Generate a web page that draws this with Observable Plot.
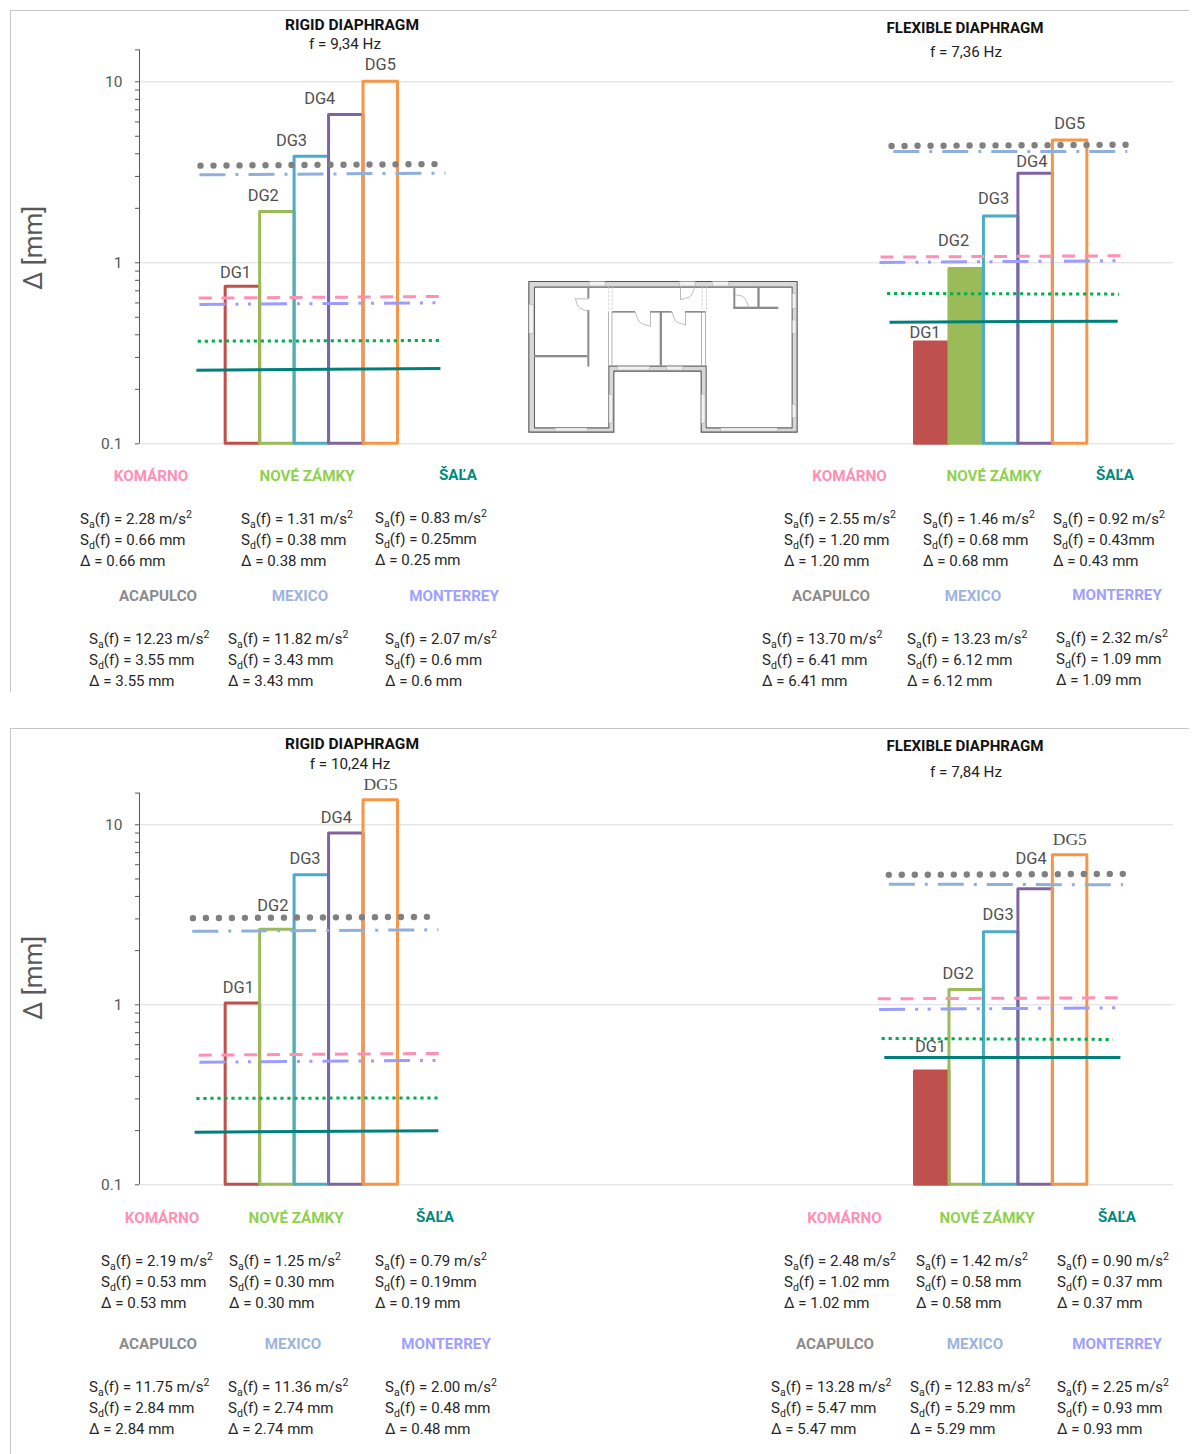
<!DOCTYPE html>
<html><head><meta charset="utf-8">
<script src="https://cdn.jsdelivr.net/npm/d3@7"></script>
<script src="https://cdn.jsdelivr.net/npm/@observablehq/plot@0.6"></script>
<style>
html,body{margin:0;background:#fff}
#page{position:relative;width:1196px;height:1454px;overflow:hidden;font-family:Roboto,sans-serif;color:#262626}
#page>svg,#page>figure{position:absolute;left:0;margin:0}
.frame{position:absolute;left:9.5px;width:1178px;border-top:1px solid #c6c6c6;border-left:1px solid #c6c6c6}
.t{position:absolute;white-space:nowrap;transform:translate(-50%,-50%)}
.head{font-weight:700;color:#111}
.freq{font-size:15.2px;color:#222}
.city{font-weight:700;font-size:15.2px}
.block{position:absolute;white-space:nowrap;font-size:15px;line-height:21.3px;color:#262626}
.block sub,.block sup{font-size:.7em;line-height:0}
</style></head><body><div id="page"></div>
<script>
// ---- bar series (Δ in mm) ----
const dgNames = ["DG1","DG2","DG3","DG4","DG5"];
const dgColors = ["#C0504D","#9BBB59","#4BACC6","#8064A2","#F79646"];
const rigidA = [0.737,1.905,3.85,6.55,10.0];
const flexA  = [0.363,0.923,1.80,3.10,4.74];
const rigidB = [1.017,2.61,5.25,8.95,13.7];
const flexB  = [0.426,1.21,2.53,4.38,6.78];
const filledFlexA = ["DG1","DG2"];
const filledFlexB = ["DG1"];
const yTicksMajor = [0.1,1,10];
const yTicksMinor = [0.2,0.3,0.4,0.5,0.6,0.7,0.8,0.9,2,3,4,5,6,7,8,9,15];

// ---- DG label anchors: x (slot units), y (mm) ----
const lblRigidAx=[2.785,3.59,4.41,5.23,6.99], lblRigidAy=[0.884,2.34,4.72,8.05,12.4];
const lblFlexAx=[22.79,23.62,24.78,25.89,26.99], lblFlexAy=[0.409,1.32,2.25,3.63,5.86];
const lblRigidBx=[2.87,3.87,4.80,5.71,6.99], lblRigidBy=[1.25,3.55,6.50,11.0,16.8];
const lblFlexBx=[22.95,23.75,24.91,25.87,26.99], lblFlexBy=[0.587,1.49,3.15,6.50,8.29];

// ---- city reference lines: [x start, x end, value start, value end] ----
const cities = ["ACAPULCO","MEXICO","KOMÁRNO","MONTERREY","NOVÉ ZÁMKY","ŠAĽA"];
const refRigidA = [[1.77,8.58,3.44,3.51],[1.74,8.88,3.06,3.13],[1.72,8.70,0.638,0.651],[1.74,8.64,0.589,0.601],[1.69,8.78,0.369,0.372],[1.65,8.73,0.255,0.261]];
const refFlexA  = [[21.82,28.63,4.42,4.49],[21.87,28.66,4.12,4.12],[21.50,28.48,1.075,1.093],[21.47,28.37,1.004,1.026],[21.69,28.42,0.677,0.671],[21.76,28.38,0.470,0.476]];
const refRigidB = [[1.55,8.36,3.03,3.08],[1.53,8.67,2.56,2.61],[1.72,8.70,0.525,0.537],[1.74,8.64,0.480,0.491],[1.65,8.73,0.302,0.304],[1.60,8.67,0.196,0.1995]];
const refFlexB  = [[21.74,28.56,5.27,5.34],[21.74,28.54,4.68,4.64],[21.42,28.38,1.08,1.094],[21.46,28.35,0.942,0.962],[21.53,28.24,0.650,0.642],[21.61,28.46,0.51,0.51]];
const lineColors = ["#808080","#8FB0DC","#FF8FB3","#9C9CFF","#00B050","#00807A"];
const lineDash = ["0,13","26,10,3,10","13,9.7","26,10,3,9.5,3,10","3.2,3.8","none"];
const lineWidth = [6.4,3,3,3,3,3];

// ---- text tables ----
const heads = ["RIGID DIAPHRAGM","FLEXIBLE DIAPHRAGM"];
const headSizes = [15.5,15.1];
const freqs = ["f = 9,34 Hz","f = 7,36 Hz","f = 10,24 Hz","f = 7,84 Hz"];
const labelOrder = ["KOMÁRNO","NOVÉ ZÁMKY","ŠAĽA","ACAPULCO","MEXICO","MONTERREY"];
const labelColors = ["#FF8FB3","#8FD14F","#00897F","#8C8C8C","#9DB4E0","#A0A0FF"];
const sa = [
 ["2.28","1.31","0.83","12.23","11.82","2.07"],
 ["2.55","1.46","0.92","13.70","13.23","2.32"],
 ["2.19","1.25","0.79","11.75","11.36","2.00"],
 ["2.48","1.42","0.90","13.28","12.83","2.25"]];
const sd = [
 ["0.66 mm","0.38 mm","0.25mm","3.55 mm","3.43 mm","0.6 mm"],
 ["1.20 mm","0.68 mm","0.43mm","6.41 mm","6.12 mm","1.09 mm"],
 ["0.53 mm","0.30 mm","0.19mm","2.84 mm","2.74 mm","0.48 mm"],
 ["1.02 mm","0.58 mm","0.37 mm","5.47 mm","5.29 mm","0.93 mm"]];
const dl = [
 ["0.66 mm","0.38 mm","0.25 mm","3.55 mm","3.43 mm","0.6 mm"],
 ["1.20 mm","0.68 mm","0.43 mm","6.41 mm","6.12 mm","1.09 mm"],
 ["0.53 mm","0.30 mm","0.19 mm","2.84 mm","2.74 mm","0.48 mm"],
 ["1.02 mm","0.58 mm","0.37 mm","5.47 mm","5.29 mm","0.93 mm"]];

// ---- floor plan in plan units ----
const planOuter = [[55,48],[860,48],[860,500],[572,500],[572,317],[310,317],[310,500],[55,500],[55,48]];
const planInner = [[72,65],[845,65],[845,487],[587,487],[587,302],[295,302],[295,487],[72,487],[72,65]];
const planOpenings = [[238,50,285,63],[508,50,555,63],[607,50,655,63],[57,118,70,205],[847,85,858,130],[847,165,858,205],[847,418,858,458],[135,489,232,498],[632,489,802,498],[322,304,418,315],[470,304,518,315],[297,388,308,474],[574,388,585,474]];
const planWalls = [[232,65,238,100],[232,135,238,305],[72,270,232,277],[449,140,456,302],[306,138,585,143],[574,140,576,302],[585,140,587,302],[295,140,297,302],[305,140,307,302],[670,125,805,132],[670,65,676,128],[742,65,749,128]];
const planWhiteGaps = [[375,136,420,145],[485,136,525,145]];
const planDotted = [[[295,65],[295,138]],[[305,65],[305,138]],[[575,65],[575,138]],[[588,65],[588,138]]];
const planDoors = [
 [[195,100],[235,100]],[[195,100],[205,125],[235,138]],
 [[510,65],[510,102]],[[510,102],[540,92],[552,65]],
 [[420,140],[420,182]],[[375,140],[388,170],[420,182]],
 [[525,140],[525,178]],[[485,140],[497,168],[525,178]],
 [[675,88],[700,95],[715,125]]];

const SLOTS = 30;
const fontAxis = "Roboto, sans-serif";
function chart(cfg){
  const bars = [...cfg.left.map((v,i)=>({x1:2.5+i,x2:3.5+i,v,c:dgColors[i],fill:"none"})),
                ...cfg.right.map((v,i)=>({x1:22.5+i,x2:23.5+i,v,c:dgColors[i],fill:cfg.filled.includes(dgNames[i])?dgColors[i]:"none"}))];
  const labels = [...dgNames.map((n,i)=>({n,x:cfg.lLx[i],y:cfg.lLy[i]})),...dgNames.map((n,i)=>({n,x:cfg.lRx[i],y:cfg.lRy[i]}))];
  const lineMarks = [];
  for (const set of [cfg.refL,cfg.refR]) set.forEach((r,i)=>{
    lineMarks.push(Plot.line([[r[0],r[2]],[r[1],r[3]]],{x:d=>d[0],y:d=>d[1],stroke:lineColors[i],strokeWidth:lineWidth[i],
      strokeDasharray:lineDash[i],strokeLinecap:i===0?"round":"butt"}));
  });
  const sans = labels.filter(d=>!(cfg.serif&&d.n==="DG5"));
  const serif = labels.filter(d=>cfg.serif&&d.n==="DG5");
  return Plot.plot({
    width:1196,height:cfg.height,marginLeft:139,marginRight:23,marginTop:cfg.mt,marginBottom:cfg.mb,
    style:{background:"transparent",fontFamily:fontAxis},
    color:{type:"identity"},
    x:{domain:[0,SLOTS],axis:null},
    y:{type:"log",domain:[0.1,15],axis:null},
    marks:[
      Plot.gridY(yTicksMajor,{stroke:"#dcdcdc",strokeOpacity:1,strokeWidth:1}),
      Plot.ruleX([0],{y1:()=>0.1,y2:()=>15,stroke:"#595959",strokeWidth:1}),
      Plot.axisY(yTicksMajor.concat(yTicksMinor),{tickSize:4,tickPadding:13,fontSize:15.5,stroke:"#595959",
        tickFormat:d=>yTicksMajor.includes(d)?String(d):"",label:null,fill:"#595959"}),
      Plot.rect(bars,{x1:"x1",x2:"x2",y1:()=>0.1,y2:"v",stroke:"c",fill:"fill",strokeWidth:3,strokeLinejoin:"round"}),
      ...lineMarks,
      Plot.text(sans,{x:"x",y:"y",text:"n",fontSize:16.4,fill:"#505050"}),
      Plot.text(serif,{x:"x",y:"y",text:"n",fontSize:17.5,fill:"#505050",fontFamily:"Liberation Serif"}),
      Plot.text(["Δ [mm]"],{frameAnchor:"left",textAnchor:"middle",dx:-106,dy:cfg.axisDy,rotate:-90,fontSize:26,fill:"#595959"})
    ]
  });
}
const page = document.getElementById("page");
function put(el,top){el.style.top=top+"px";page.appendChild(el);}

put(chart({height:460,mt:49.4,mb:16.7,left:rigidA,right:flexA,filled:filledFlexA,
  lLx:lblRigidAx,lLy:lblRigidAy,lRx:lblFlexAx,lRy:lblFlexAy,refL:refRigidA,refR:refFlexA,axisDy:1}),0);
put(chart({height:480,mt:72.6,mb:15.7,left:rigidB,right:flexB,filled:filledFlexB,serif:true,
  lLx:lblRigidBx,lLy:lblRigidBy,lRx:lblFlexBx,lRy:lblFlexBy,refL:refRigidB,refR:refFlexB,axisDy:-11}),720);

// floor plan
const wallRect=(arr,opt)=>Plot.rect(arr,{x1:d=>d[0],y1:d=>d[1],x2:d=>d[2],y2:d=>d[3],...opt});
const plan = Plot.plot({
  width:300,height:180,margin:0,style:{background:"transparent"},
  x:{domain:[0,900],axis:null},y:{domain:[0,540],axis:null,range:[0,180]},
  marks:[
    Plot.line(planOuter,{x:d=>d[0],y:d=>d[1],fill:"#d8d8d8",stroke:"#555",strokeWidth:1.1}),
    Plot.line(planInner,{x:d=>d[0],y:d=>d[1],fill:"#fff",stroke:"#666",strokeWidth:1.1}),
    wallRect(planOpenings,{fill:"#f2f2f2",stroke:"#aaa",strokeWidth:.5}),
    wallRect(planWalls,{fill:"#8c8c8c"}),
    wallRect(planWhiteGaps,{fill:"#fff"}),
    ...planDotted.map(p=>Plot.line(p,{x:d=>d[0],y:d=>d[1],stroke:"#ccc",strokeWidth:.8,strokeDasharray:"2,2"})),
    ...planDoors.map(p=>Plot.line(p,{x:d=>d[0],y:d=>d[1],stroke:"#aaa",strokeWidth:.8,curve:p.length>2?"catmull-rom":"linear"}))
  ]
});
plan.style.left="510px";
plan.style.position="absolute";
put(plan,265);

// frames
[[9.5,681],[728,726]].forEach(([t,h])=>{const d=document.createElement("div");d.className="frame";d.style.top=t+"px";d.style.height=h+"px";page.appendChild(d);});

function label(cls,txt,x,y,color,size){const d=document.createElement("div");d.className="t "+cls;d.textContent=txt;d.style.left=x+"px";d.style.top=y+"px";if(color)d.style.color=color;if(size)d.style.fontSize=size+"px";page.appendChild(d);}
// headers: [text, x, y]
[[0,352,25],[1,965,28],[0,352,744],[1,965,746]].forEach(([h,x,y])=>label("head",heads[h],x,y,null,headSizes[h]));
[[0,345,44],[1,966,52],[2,350,764],[3,966,772]].forEach(([f,x,y])=>label("freq",freqs[f],x,y));

// city label centres and formula block anchors per panel
const cityPos = [
 [[151,476],[307,476],[458,475],[158,596],[300,596],[454,596]],
 [[849.5,476],[994,476],[1115,475],[831,596],[973,596],[1117,595]],
 [[162,1218],[296,1218],[435,1217],[158,1344],[293,1344],[446,1344]],
 [[844.5,1218],[987,1218],[1117,1217],[835,1344],[975,1344],[1117,1344]]];
const blockPos = [
 [[80,519.2],[241,519.2],[375,518.2],[89,639.2],[228,639.2],[385,639.2]],
 [[784,519.2],[923,519.2],[1053,519.2],[762,639.2],[907,639.2],[1056,638.2]],
 [[101,1261.2],[229,1261.2],[375,1261.2],[89,1387.2],[228,1387.2],[385,1387.2]],
 [[784,1261.2],[916,1261.2],[1057,1261.2],[771,1387.2],[910,1387.2],[1057,1387.2]]];
cityPos.forEach((row,p)=>row.forEach(([x,y],i)=>{
  label("city",labelOrder[i],x,y,labelColors[i]);
  const b=document.createElement("div");b.className="block";
  b.style.left=blockPos[p][i][0]+"px";b.style.top=(blockPos[p][i][1]-10.6)+"px";
  b.innerHTML=`S<sub>a</sub>(f) = ${sa[p][i]} m/s<sup>2</sup><br>S<sub>d</sub>(f) = ${sd[p][i]}<br>Δ = ${dl[p][i]}`;
  page.appendChild(b);
}));
</script></body></html>
